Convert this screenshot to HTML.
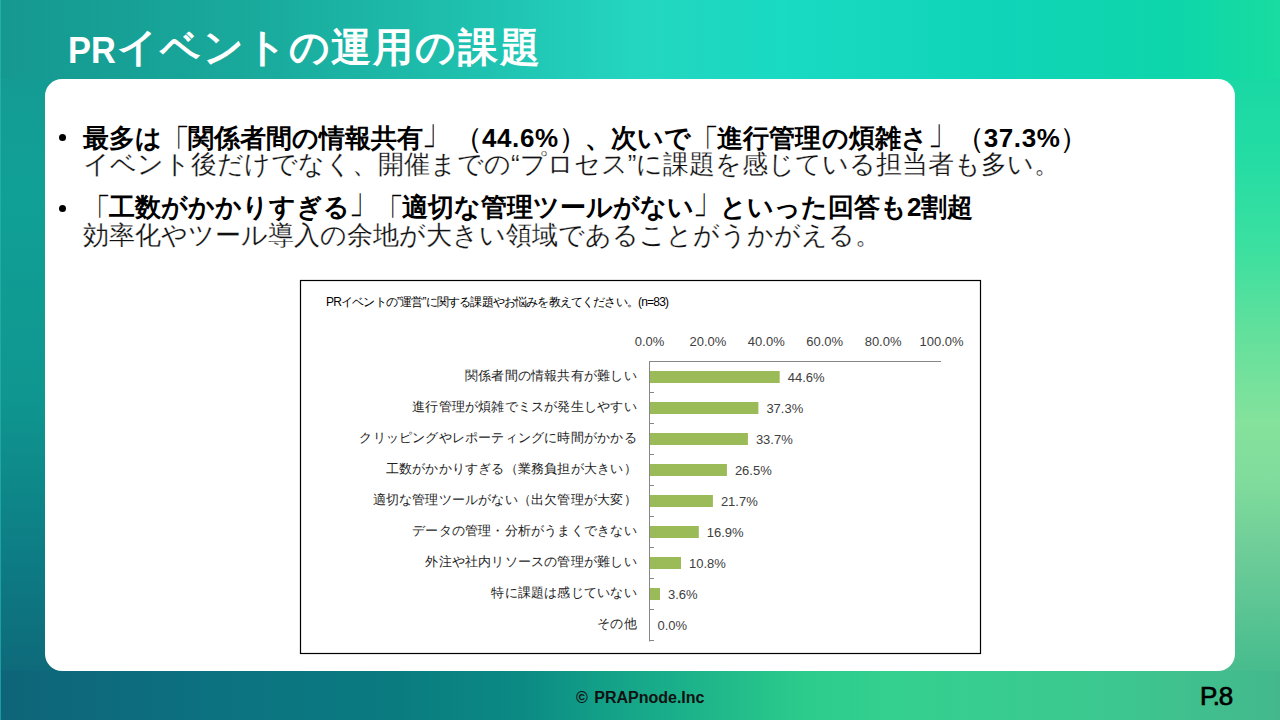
<!DOCTYPE html>
<html lang="ja">
<head>
<meta charset="utf-8">
<style>
html,body{margin:0;padding:0;}
body{text-spacing-trim:space-all;width:1280px;height:720px;overflow:hidden;position:relative;font-family:"Liberation Sans",sans-serif;
background:#12a090;
}
.pr{display:inline-block;font-size:37px;transform:scaleX(.93);transform-origin:0 0;margin-right:-2px;position:relative;top:2px;letter-spacing:0}
.title{position:absolute;left:68px;top:20px;color:#fff;font-size:40px;font-weight:700;white-space:nowrap;letter-spacing:1.8px;}
.card{position:absolute;left:45px;top:79px;width:1190px;height:592px;background:#fff;border-radius:17px;}
.b{position:absolute;left:83px;white-space:nowrap;color:#000;}
.b1{font-size:26px;font-weight:700;}
.b2{font-size:26px;font-weight:300;color:#111;-webkit-text-stroke:0.2px #fff;}
.n{font-weight:400}
.lb,.rb,.lp,.rp{display:inline-block;}
.lp{transform:scale(1.2,1.12);transform-origin:75% 45%}
.rp{transform:scale(1.2,1.12);transform-origin:25% 45%}
.lb{transform:scale(1.1,1.75);transform-origin:50% 12%}
.rb{transform:scale(1.1,1.75);transform-origin:50% 88%}
.d{letter-spacing:0.6px}
.dot{position:absolute;width:7px;height:7px;border-radius:50%;background:#000;}
.footer{position:absolute;left:576px;top:689px;font-size:16px;font-weight:700;color:#111;white-space:nowrap;word-spacing:2px;}
.page{position:absolute;left:1200px;top:681px;font-size:26px;font-weight:400;color:#000;letter-spacing:-1.2px;-webkit-text-stroke:0.7px #000;}
.bgt{position:absolute;left:0;top:0;width:1280px;height:79px;background:linear-gradient(90deg,#159890 0%,#19aa9c 20%,#1fc2b0 38%,#24d6c0 50%,#18dac2 62%,#10d4b8 78%,#0ed6aa 92%,#18dca0 100%);}
.bgl{position:absolute;left:0;top:79px;width:90px;height:592px;background:linear-gradient(180deg,#149c94 0%,#10a096 20%,#0f9690 54%,#0d7c84 81%,#0e6a7a 100%);}
.bgr{position:absolute;left:1190px;top:79px;width:90px;height:592px;background:linear-gradient(180deg,#1ad8a4 0%,#22dca4 12%,#3ce0a0 29%,#60e09c 42%,#84e29c 58%,#80dc9c 68%,#6ccc98 81%,#50c090 95%,#48bc8e 100%);}
.bgb{position:absolute;left:0;top:671px;width:1280px;height:49px;background:linear-gradient(90deg,#0e6478 0%,#0c7080 15%,#0a7c80 31%,#0b8a84 41%,#13a088 47%,#1ab08a 53%,#2ccc8c 63%,#34d090 70%,#3cc890 86%,#44b88c 100%);}
.edge{position:absolute;left:0;top:0;width:1px;height:720px;background:linear-gradient(#28b4ac,#22a8a8);opacity:.8}
</style>
</head>
<body>
<div class="bgt"></div><div class="bgl"></div><div class="bgr"></div><div class="bgb"></div><div class="edge"></div>
<div class="title"><span class="pr">PR</span>イベントの運用の課題</div>
<div class="card"></div>

<div class="dot" style="left:59px;top:134px"></div>
<div class="b b1" style="top:121px">最多は<span class="n lb">「</span>関係者間の情報共有<span class="n rb">」</span><span class="n lp" style="margin-left:7px">（</span><span class="d">44.6%</span><span class="n rp">）</span>、次いで<span class="n lb">「</span><span style="letter-spacing:.25px">進行管理の煩雑さ</span><span class="n rb">」</span><span class="n lp" style="margin-left:3px">（</span><span class="d">37.3%</span><span class="n rp">）</span></div>
<div class="b b2" style="top:147px">イベント後だけでなく、開催までの“プロセス”に課題を感じている担当者も多い。</div>

<div class="dot" style="left:59px;top:205px"></div>
<div class="b b1" style="top:190px"><span class="n lb">「</span>工数がかかりすぎる<span class="n rb">」</span><span class="n lb">「</span>適切な管理ツールがない<span class="n rb">」</span>といった回答も2割超</div>
<div class="b b2" style="top:218px">効率化やツール導入の余地が大きい領域であることがうかがえる。</div>

<svg style="position:absolute;left:0;top:0" width="1280" height="720">
<rect x="300.5" y="280.5" width="680" height="373" fill="#fff" stroke="#000" stroke-width="1.2"/>
<text x="326" y="306" font-size="12" fill="#000" textLength="343" lengthAdjust="spacing">PRイベントの”運営”に関する課題やお悩みを教えてください。(n=83)</text>
<text x="649.5" y="346" font-size="13" fill="#404040" text-anchor="middle">0.0%</text>
<text x="707.9" y="346" font-size="13" fill="#404040" text-anchor="middle">20.0%</text>
<text x="766.3" y="346" font-size="13" fill="#404040" text-anchor="middle">40.0%</text>
<text x="824.7" y="346" font-size="13" fill="#404040" text-anchor="middle">60.0%</text>
<text x="883.1" y="346" font-size="13" fill="#404040" text-anchor="middle">80.0%</text>
<text x="941.5" y="346" font-size="13" fill="#404040" text-anchor="middle">100.0%</text>
<path d="M649.5 361.5H941" stroke="#868686" stroke-width="1" fill="none"/>
<path d="M649.5 361V641.5M649.5 392.5H654M649.5 423.5H654M649.5 454.5H654M649.5 485.5H654M649.5 516.5H654M649.5 547.5H654M649.5 578.5H654M649.5 609.5H654M649.5 640.5H654" stroke="#868686" stroke-width="1" fill="none"/>
<rect x="650" y="371" width="129.7" height="12" fill="#9bbb59"/>
<text x="636.5" y="380" font-size="13" fill="#1e1e1e" text-anchor="end" textLength="171.6" lengthAdjust="spacing">関係者間の情報共有が難しい</text>
<text x="787.7" y="382" font-size="13" fill="#404040">44.6%</text>
<rect x="650" y="402" width="108.4" height="12" fill="#9bbb59"/>
<text x="636.5" y="411" font-size="13" fill="#1e1e1e" text-anchor="end" textLength="224.4" lengthAdjust="spacing">進行管理が煩雑でミスが発生しやすい</text>
<text x="766.4" y="413" font-size="13" fill="#404040">37.3%</text>
<rect x="650" y="433" width="97.9" height="12" fill="#9bbb59"/>
<text x="636.5" y="442" font-size="13" fill="#1e1e1e" text-anchor="end" textLength="277.2" lengthAdjust="spacing">クリッピングやレポーティングに時間がかかる</text>
<text x="755.9" y="444" font-size="13" fill="#404040">33.7%</text>
<rect x="650" y="464" width="76.9" height="12" fill="#9bbb59"/>
<text x="636.5" y="473" font-size="13" fill="#1e1e1e" text-anchor="end" textLength="250.8" lengthAdjust="spacing">工数がかかりすぎる（業務負担が大きい）</text>
<text x="734.9" y="475" font-size="13" fill="#404040">26.5%</text>
<rect x="650" y="495" width="62.9" height="12" fill="#9bbb59"/>
<text x="636.5" y="504" font-size="13" fill="#1e1e1e" text-anchor="end" textLength="264.0" lengthAdjust="spacing">適切な管理ツールがない（出欠管理が大変）</text>
<text x="720.9" y="506" font-size="13" fill="#404040">21.7%</text>
<rect x="650" y="526" width="48.8" height="12" fill="#9bbb59"/>
<text x="636.5" y="535" font-size="13" fill="#1e1e1e" text-anchor="end" textLength="224.4" lengthAdjust="spacing">データの管理・分析がうまくできない</text>
<text x="706.8" y="537" font-size="13" fill="#404040">16.9%</text>
<rect x="650" y="557" width="31.0" height="12" fill="#9bbb59"/>
<text x="636.5" y="566" font-size="13" fill="#1e1e1e" text-anchor="end" textLength="211.2" lengthAdjust="spacing">外注や社内リソースの管理が難しい</text>
<text x="689.0" y="568" font-size="13" fill="#404040">10.8%</text>
<rect x="650" y="588" width="10.0" height="12" fill="#9bbb59"/>
<text x="636.5" y="597" font-size="13" fill="#1e1e1e" text-anchor="end" textLength="145.2" lengthAdjust="spacing">特に課題は感じていない</text>
<text x="668.0" y="599" font-size="13" fill="#404040">3.6%</text>
<text x="636.5" y="628" font-size="13" fill="#1e1e1e" text-anchor="end" textLength="39.6" lengthAdjust="spacing">その他</text>
<text x="657.5" y="630" font-size="13" fill="#404040">0.0%</text>
</svg>

<div class="footer">© PRAPnode.Inc</div>
<div class="page">P.8</div>
</body>
</html>
